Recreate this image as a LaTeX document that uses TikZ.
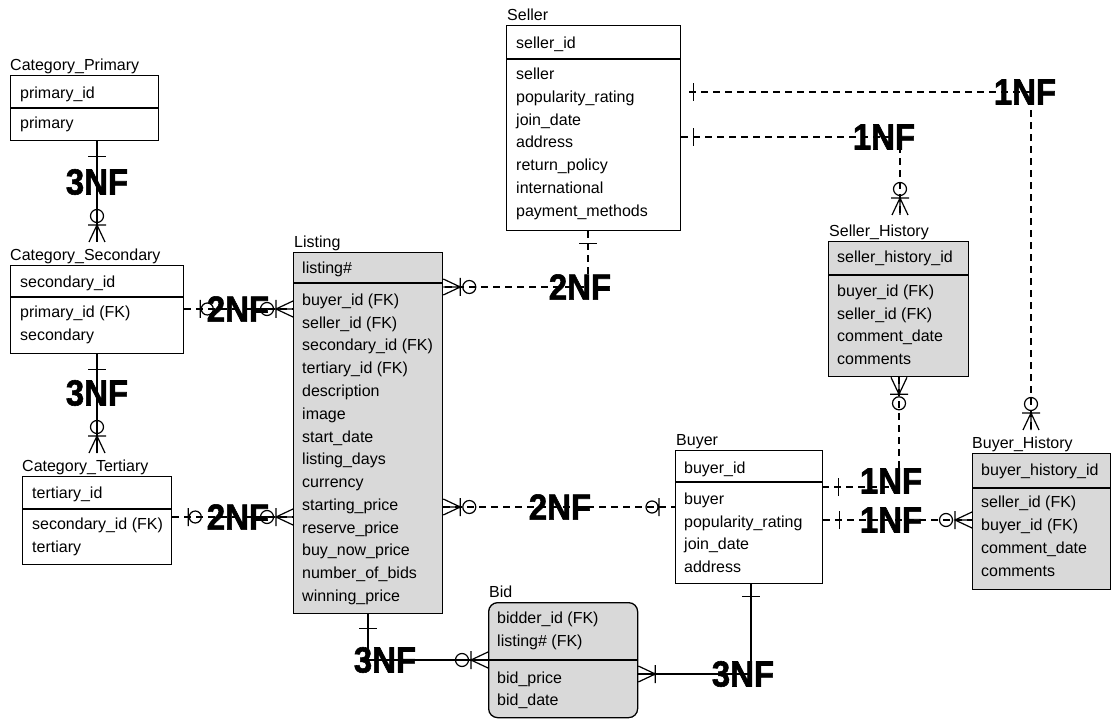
\documentclass[tikz,border=0pt]{standalone}
\usepackage{fontspec}
\usepackage{graphicx}
\setmainfont{Liberation Sans}
\newfontfamily\nffont[FakeBold=1.6]{Liberation Sans Bold}
\usetikzlibrary{calc}
\definecolor{entgrey}{RGB}{217,217,217}
\newcommand\nft[1]{\scalebox{1}[1.1]{#1}}
\newcommand\erows[5]{\foreach \t [count=\i] in {#5} {\node[row] (#1-\i) at (#2, {#3+(\i-1)*#4}) {\t};}}
\begin{document}
\begin{tikzpicture}[x=1pt,y=-1pt,
  every node/.style={font=\fontsize{16}{19}\selectfont},
  ent/.style={draw, line width=1.3pt, anchor=north west, inner sep=0pt},
  divl/.style={line width=1.3pt},
  ttl/.style={anchor=base west, inner sep=0pt},
  row/.style={anchor=base west, inner sep=0pt},
  rel/.style={line width=1.2pt},
  dsh/.style={rel, dash pattern=on 7pt off 5pt},
  mk/.style={solid, line width=1.2pt},
  nf/.style={inner sep=0pt, font=\fontsize{33}{33}\nffont},
  pics/bar/.style={code={\draw[mk] (#1,9)--(#1,-9);}},
  pics/crow/.style={code={\draw[mk] (0,8)--(17,0)--(0,-8) (0,0)--(17,0) (17,9)--(17,-9);}},
  pics/crowo/.style={code={\draw[mk] (0,8)--(17,0)--(0,-8) (0,0)--(17,0) (17,9)--(17,-9) (26,0) circle (6.5pt);}},
  pics/baro/.style={code={\draw[mk] (16,9)--(16,-9) (23,0) circle (6pt);}},
]
\fill[white] (0,0) rectangle (1117,719);
\useasboundingbox (0,0) rectangle (1117,719);

% Category_Primary
\node[ent, fill=white, minimum width=148pt, minimum height=65pt] (cp) at (10,75) {};
\node[ttl] (cpt) at (10,70.5) {Category\_Primary};
\draw[divl] (cp.west |- 0,108) -- (cp.east |- 0,108);
\erows{cp}{20}{98.5}{30}{primary\_id,primary}

% Category_Secondary
\node[ent, fill=white, minimum width=173pt, minimum height=88pt] (cs) at (10,265) {};
\node[ttl] (cst) at (10,260.5) {Category\_Secondary};
\draw[divl] (cs.west |- 0,297) -- (cs.east |- 0,297);
\erows{csk}{20}{287.5}{0}{secondary\_id}
\erows{cs}{20}{317.5}{23}{primary\_id (FK),secondary}

% Category_Tertiary
\node[ent, fill=white, minimum width=149pt, minimum height=88pt] (ct) at (22,476) {};
\node[ttl] (ctt) at (22,471.5) {Category\_Tertiary};
\draw[divl] (ct.west |- 0,509) -- (ct.east |- 0,509);
\erows{ctk}{32}{498.5}{0}{tertiary\_id}
\erows{ct}{32}{529.5}{23}{secondary\_id (FK),tertiary}

% Listing
\node[ent, fill=entgrey, minimum width=149pt, minimum height=361pt] (li) at (293,252) {};
\node[ttl] (lit) at (294,247.5) {Listing};
\draw[divl] (li.west |- 0,283) -- (li.east |- 0,283);
\erows{lik}{302}{273.5}{0}{listing\#}
\erows{li}{302}{305.5}{22.75}{buyer\_id (FK),seller\_id (FK),secondary\_id (FK),tertiary\_id (FK),description,image,start\_date,listing\_days,currency,starting\_price,reserve\_price,buy\_now\_price,number\_of\_bids,winning\_price}

% Seller
\node[ent, fill=white, minimum width=174pt, minimum height=205pt] (se) at (506,25) {};
\node[ttl] (set) at (507,20.5) {Seller};
\draw[divl] (se.west |- 0,59) -- (se.east |- 0,59);
\erows{sek}{516}{48.5}{0}{seller\_id}
\erows{se}{516}{79.5}{22.83}{seller,popularity\_rating,join\_date,address,return\_policy,international,payment\_methods}

% Seller_History
\node[ent, fill=entgrey, minimum width=140pt, minimum height=135pt] (sh) at (828,241) {};
\node[ttl] (sht) at (829,236.5) {Seller\_History};
\draw[divl] (sh.west |- 0,275) -- (sh.east |- 0,275);
\erows{shk}{837}{262.5}{0}{seller\_history\_id}
\erows{sh}{837}{296.5}{22.7}{buyer\_id (FK),seller\_id (FK),comment\_date,comments}

% Buyer
\node[ent, fill=white, minimum width=147pt, minimum height=133pt] (bu) at (675,450) {};
\node[ttl] (but) at (676,445.5) {Buyer};
\draw[divl] (bu.west |- 0,482) -- (bu.east |- 0,482);
\erows{buk}{684}{473.5}{0}{buyer\_id}
\erows{bu}{684}{504.5}{22.7}{buyer,popularity\_rating,join\_date,address}

% Buyer_History
\node[ent, fill=entgrey, minimum width=138pt, minimum height=136pt] (bh) at (972,453) {};
\node[ttl] (bht) at (972,448.5) {Buyer\_History};
\draw[divl] (bh.west |- 0,488) -- (bh.east |- 0,488);
\erows{bhk}{981}{475.5}{0}{buyer\_history\_id}
\erows{bh}{981}{507.5}{23}{seller\_id (FK),buyer\_id (FK),comment\_date,comments}

% Bid
\node[ent, fill=entgrey, rounded corners=9pt, minimum width=149pt, minimum height=115pt] (bi) at (488,602) {};
\node[ttl] (bit) at (489,597.5) {Bid};
\draw[divl] (bi.west |- 0,660) -- (bi.east |- 0,660);
\erows{bik}{497}{623.5}{23}{bidder\_id (FK),listing\# (FK)}
\erows{bi}{497}{683.5}{22}{bid\_price,bid\_date}

% free ends at entity titles
\coordinate (cs-in) at (97,242);
\coordinate (ct-in) at (97,453);
\coordinate (sh-in) at (900,215);
\coordinate (bh-in) at (1031,430);

% connectors
\draw[rel] (cp.south -| cs-in) -- (cs-in);
\pic[rotate=-90] at (cp.south -| cs-in) {bar=15};
\pic[rotate=90] at (cs-in) {crowo};

\draw[rel] (cs.south -| ct-in) -- (ct-in);
\pic[rotate=-90] at (cs.south -| ct-in) {bar=15};
\pic[rotate=90] at (ct-in) {crowo};

\draw[dsh] (cs.east |- 0,309) -- (li.west |- 0,309);
\pic at (cs.east |- 0,309) {baro};
\pic[rotate=180] at (li.west |- 0,309) {crowo};

\draw[dsh] (ct.east |- 0,517) -- (li.west |- 0,517);
\pic at (ct.east |- 0,517) {baro};
\pic[rotate=180] at (li.west |- 0,517) {crowo};

\draw[dsh] (se.south -| 588,0) |- (li.east |- 0,287);
\pic[rotate=-90] at (se.south -| 588,0) {bar=12};
\pic at (li.east |- 0,287) {crowo};

\draw[dsh] (li.east |- 0,507) -- (bu.west |- 0,507);
\pic at (li.east |- 0,507) {crowo};
\pic[rotate=180] at (bu.west |- 0,507) {baro};

\draw[dsh] (se.east |- 0,137) -| (sh-in);
\pic at (se.east |- 0,137) {bar=12};
\pic[rotate=90] at (sh-in) {crowo};

\draw[dsh] ($(se.east |- 0,92)+(8,0)$) -| (bh-in);
\pic at (se.east |- 0,92) {bar=12};
\pic[rotate=90] at (bh-in) {crowo};

\draw[dsh] (sh.south -| 899,0) |- (bu.east |- 0,487);
\pic[rotate=-90] at (sh.south -| 899,0) {crowo};
\pic at (bu.east |- 0,487) {bar=15};

\draw[dsh] (bu.east |- 0,520) -- (bh.west |- 0,520);
\pic at (bu.east |- 0,520) {bar=16};
\pic[rotate=180] at (bh.west |- 0,520) {crowo};

\draw[rel] (li.south -| 368,0) |- (bi.west |- 0,660);
\pic[rotate=-90] at (li.south -| 368,0) {bar=14};
\pic[rotate=180] at (bi.west |- 0,660) {crowo};

\draw[rel] (bu.south -| 751,0) |- (bi.east |- 0,674);
\pic[rotate=-90] at (bu.south -| 751,0) {bar=12};
\pic at (bi.east |- 0,674) {crow};

% normal form labels
\node[nf] (l1) at (97,182) {\nft{3NF}};
\node[nf] (l2) at (97,393) {\nft{3NF}};
\node[nf] (l3) at (238,309) {\nft{2NF}};
\node[nf] (l4) at (238,517) {\nft{2NF}};
\node[nf] (l5) at (580,287) {\nft{2NF}};
\node[nf] (l6) at (560,507) {\nft{2NF}};
\node[nf] (l7) at (884,137) {\nft{1NF}};
\node[nf] (l8) at (1025,92) {\nft{1NF}};
\node[nf] (l9) at (891,481) {\nft{1NF}};
\node[nf] (l10) at (891,520) {\nft{1NF}};
\node[nf] (l11) at (385,660) {\nft{3NF}};
\node[nf] (l12) at (743,674) {\nft{3NF}};
\end{tikzpicture}
\end{document}
